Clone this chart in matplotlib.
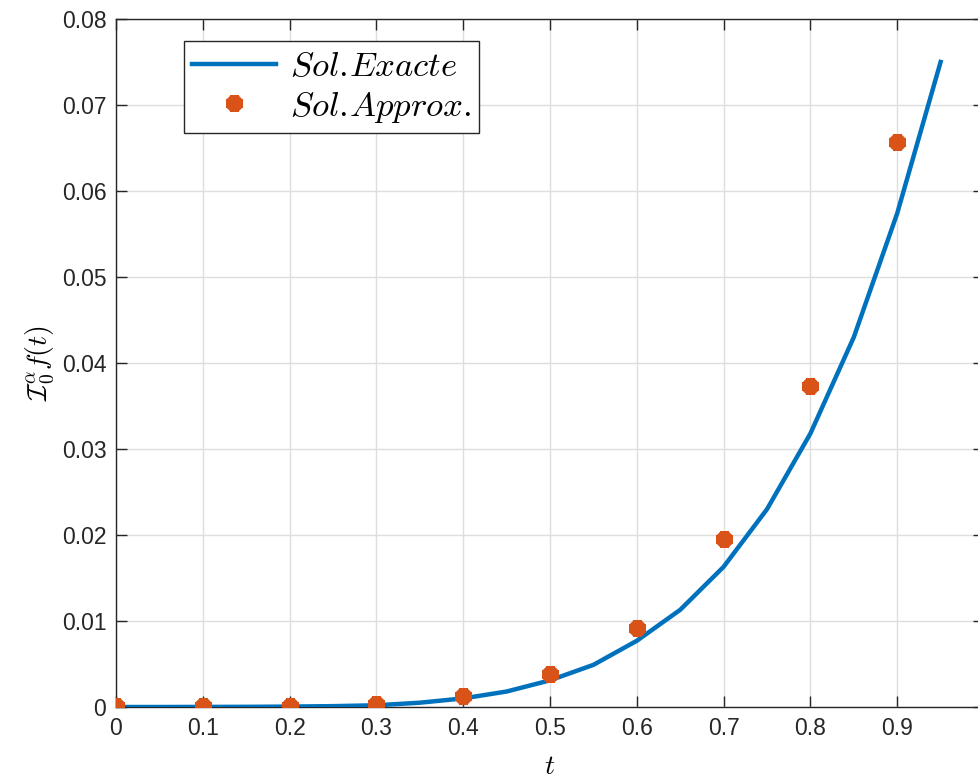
import numpy as np
import matplotlib
matplotlib.use("Agg")
import matplotlib.pyplot as plt

plt.rcParams['font.family'] = ['Liberation Sans', 'DejaVu Sans']
plt.rcParams['mathtext.fontset'] = 'cm'

# exact solution, sampled every 0.05
t_exact = [0.0, 0.05, 0.1, 0.15, 0.2, 0.25, 0.3, 0.35, 0.4, 0.45,
           0.5, 0.55, 0.6, 0.65, 0.7, 0.75, 0.8, 0.85, 0.9, 0.95]
y_exact = [0.0, 0.0, 0.00001, 0.00002, 0.00005, 0.0001, 0.0002, 0.0005, 0.0010, 0.0018,
           0.0031, 0.0049, 0.0077, 0.0113, 0.0163, 0.0230, 0.0318, 0.0430, 0.0574, 0.0750]

# approximate solution
t_approx = [0.0, 0.1, 0.2, 0.3, 0.4, 0.5, 0.6, 0.7, 0.8, 0.9]
y_approx = [0.0001, 0.0001, 0.0001, 0.0003, 0.0013, 0.0038, 0.0092, 0.0195, 0.0373, 0.0657]

fig = plt.figure(figsize=(9.79, 7.78), dpi=100)
ax = fig.add_axes([116/979, 1 - 707/778, 868/979, 688/778])

ax.plot(t_exact, y_exact, color='#0072BD', lw=3.2, label=r'$Sol.\!Exacte$', zorder=3)
ax.plot(t_approx, y_approx, ls='none', marker=(8, 2, 0), ms=12, mew=5.5,
        color='#D95319', label=r'$Sol.\!Approx.$', zorder=4)

ax.set_xlim(0, 1)
ax.set_ylim(0, 0.08)
ax.set_xticks(np.arange(0, 1.01, 0.1))
ax.set_xticklabels(['0', '0.1', '0.2', '0.3', '0.4', '0.5', '0.6', '0.7', '0.8', '0.9', '1'])
ax.set_yticks(np.arange(0, 0.081, 0.01))
ax.set_yticklabels(['0', '0.01', '0.02', '0.03', '0.04', '0.05', '0.06', '0.07', '0.08'])

ax.grid(True, color='#dedede', lw=1)
ax.set_axisbelow(True)
for s in ax.spines.values():
    s.set_color('#262626')
    s.set_linewidth(1.0)
ax.tick_params(direction='in', length=8, width=1, colors='#262626',
               labelsize=16.5, top=True, right=True, pad=7)
for lbl in ax.get_xticklabels() + ax.get_yticklabels():
    lbl.set_color('#262626')

ax.set_xlabel(r'$t$', fontsize=20, labelpad=10)
ax.set_ylabel(r'$\mathcal{I}_0^{\alpha}f(t)$', fontsize=20, labelpad=4)

leg = ax.legend(loc='upper left', bbox_to_anchor=(0.078, 0.968), borderaxespad=0,
                fontsize=25, fancybox=False, framealpha=1, edgecolor='#262626',
                handlelength=2.4, borderpad=0.25, labelspacing=0.2, handletextpad=0.4)
leg.get_frame().set_linewidth(1.0)

fig.savefig('out.png', dpi=100)
